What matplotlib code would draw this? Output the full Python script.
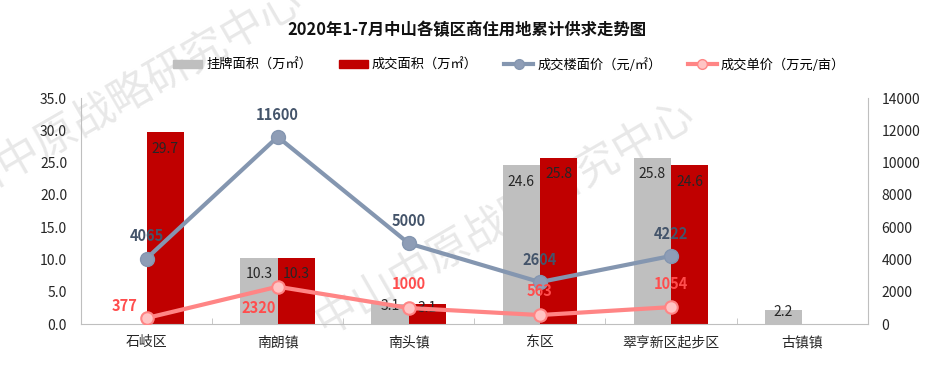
import numpy as np
import matplotlib
matplotlib.use("Agg")
import matplotlib.pyplot as plt
from matplotlib.lines import Line2D
from matplotlib.patches import Patch

plt.rcParams['font.family'] = ['Noto Sans CJK SC', 'DejaVu Sans']

categories = ["石岐区", "南朗镇", "南头镇", "东区", "翠亨新区起步区", "古镇镇"]
listed_area = [0, 10.3, 3.1, 24.6, 25.8, 2.2]      # 挂牌面积 (万㎡)
sold_area = [29.7, 10.3, 3.1, 25.8, 24.6, 0]        # 成交面积 (万㎡)
floor_price = [4065, 11600, 5000, 2604, 4222]       # 成交楼面价 (元/㎡)
unit_price = [377, 2320, 1000, 563, 1054]           # 成交单价 (万元/亩)

gray = "#BFBFBF"
red = "#C00000"
slate = "#8496B0"
pink = "#FF8585"

fig = plt.figure(figsize=(9.31, 3.73), dpi=100)
ax = fig.add_axes([0.087, 0.131, 0.845, 0.606])
ax2 = ax.twinx()

# watermark
for cx, cy in [(0.122, 0.721), (0.543, 0.415)]:
    fig.text(cx, cy, "中山中原战略研究中心", fontsize=31, color="#E8E8E8",
             rotation=30, ha="center", va="center", zorder=0)
ax.set_zorder(2)
ax2.set_zorder(3)
ax.patch.set_visible(False)
ax2.patch.set_visible(False)

x = np.arange(len(categories))
w = 0.285
ax.bar(x - w / 2, listed_area, w, color=gray, zorder=2)
ax.bar(x + w / 2, sold_area, w, color=red, zorder=2)

for xi, v in zip(x, listed_area):
    if v > 0:
        y = v - 2.6 if v > 5 else v - 0.3
        ax.text(xi - w / 2, y, f"{v:.1f}", ha="center", va="center",
                fontsize=10, color="#262626", zorder=5)
for xi, v in zip(x, sold_area):
    if v > 0:
        y = v - 2.6 if v > 5 else v - 0.6
        ax.text(xi + w / 2, y, f"{v:.1f}", ha="center", va="center",
                fontsize=10, color="#262626", zorder=5)

ax.set_xlim(-0.5, len(categories) - 0.5)
ax.set_ylim(0, 35)
ax.set_yticks(np.arange(0, 36, 5))
ax.set_yticklabels([f"{t:.1f}" for t in np.arange(0, 36, 5)])
ax.set_xticks(x)
ax.set_xticklabels(categories)
ax.set_xticks(np.arange(-0.5, len(categories)), minor=True)
ax.tick_params(axis="x", which="major", length=0, pad=8, labelsize=10, labelcolor="#262626")
ax.tick_params(axis="x", which="minor", length=4, direction="in", color="#BFBFBF")
ax.tick_params(axis="y", length=0, pad=10, labelsize=10, labelcolor="#262626")

lx = x[:len(floor_price)]
ax2.plot(lx, floor_price, color=slate, lw=3, marker="o", ms=10,
         mfc="#8E9DB6", mec=slate, zorder=4, solid_capstyle="round")
ax2.plot(lx, unit_price, color=pink, lw=3, marker="o", ms=9,
         mfc="#FFC4C4", mec=pink, mew=1.5, zorder=4)
ax2.set_ylim(0, 14000)
ax2.set_yticks(np.arange(0, 14001, 2000))
ax2.tick_params(axis="y", length=0, pad=10, labelsize=10, labelcolor="#262626")

for xi, v in zip(lx, floor_price):
    ax2.annotate(str(v), (xi, v), xytext=(0, 16), textcoords="offset points",
                 ha="center", va="center", fontsize=10.5, fontweight="bold",
                 color="#44546A", zorder=6)
offsets = [(-16, 9), (-14, -15), (0, 17), (0, 17), (0, 17)]
for xi, v, off in zip(lx, unit_price, offsets):
    ax2.annotate(str(v), (xi, v), xytext=off, textcoords="offset points",
                 ha="center", va="center", fontsize=10.5, fontweight="bold",
                 color="#FF4D4D", zorder=6)

for a in (ax, ax2):
    a.spines["top"].set_visible(False)
    for s in ("left", "right", "bottom"):
        a.spines[s].set_color("#BFBFBF")
ax.spines["right"].set_visible(False)
ax2.spines["left"].set_visible(False)
ax2.spines["bottom"].set_visible(False)

fig.text(0.502, 0.918, "2020年1-7月中山各镇区商住用地累计供求走势图",
         ha="center", va="center", fontsize=11.8, fontweight="bold", color="#111111")

handles = [
    Patch(color=gray, label="挂牌面积（万㎡）"),
    Patch(color=red, label="成交面积（万㎡）"),
    Line2D([], [], color=slate, lw=3, marker="o", ms=7, mfc="#8E9DB6", label="成交楼面价（元/㎡）"),
    Line2D([], [], color=pink, lw=3, marker="o", ms=7, mfc="#FFC4C4", label="成交单价（万元/亩）"),
]
fig.legend(handles=handles, loc="center", bbox_to_anchor=(0.547, 0.826), ncol=4,
           frameon=False, fontsize=9.5, handlelength=2.2, handleheight=0.6,
           columnspacing=2.0, handletextpad=0.3)

fig.savefig("out.png", dpi=100)
